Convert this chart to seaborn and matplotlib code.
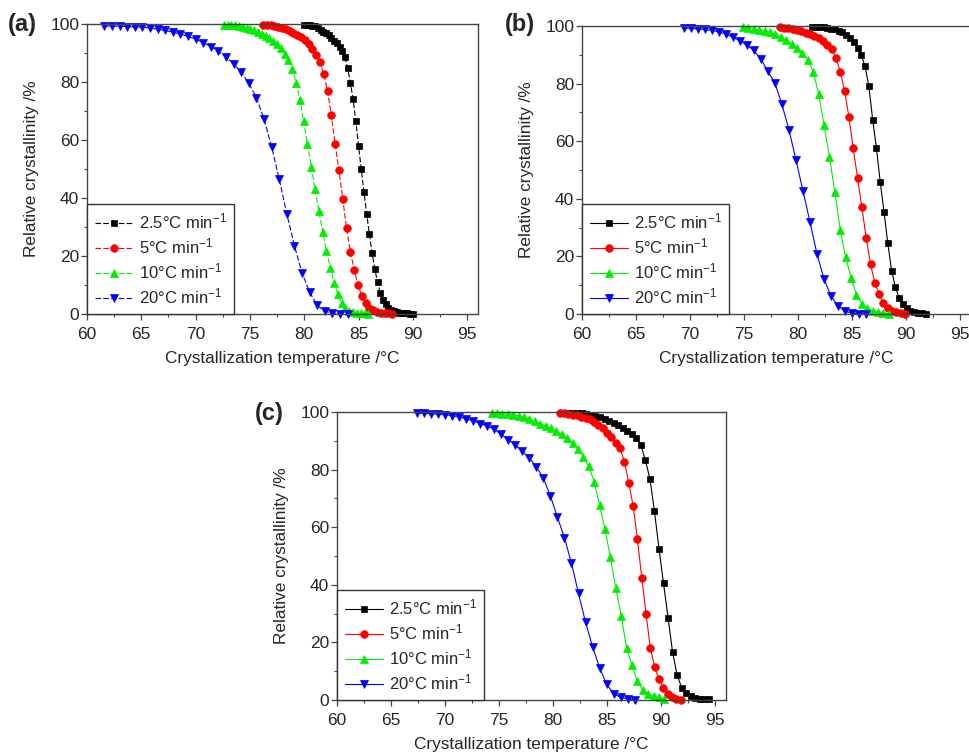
import matplotlib
matplotlib.use("Agg")
import matplotlib.pyplot as plt
import seaborn as sns
from matplotlib.ticker import MultipleLocator

# ---------------- data ----------------
rate_labels = ["2.5°C min$^{-1}$", "5°C min$^{-1}$", "10°C min$^{-1}$", "20°C min$^{-1}$"]
panel_names = ["(a)", "(b)", "(c)"]
x_ticks = [60, 65, 70, 75, 80, 85, 90, 95]
y_ticks = [0, 20, 40, 60, 80, 100]

# ---- panel (a) ----
a_T_25 = [80.00, 80.25, 80.50, 80.75, 81.00, 81.25, 81.50, 81.75, 82.00, 82.25, 82.50, 82.75,
          83.00, 83.25, 83.50, 83.75, 84.00, 84.25, 84.50, 84.75, 85.00, 85.25, 85.50, 85.75,
          86.00, 86.25, 86.50, 86.75, 87.00, 87.25, 87.50, 87.75, 88.00, 88.25, 88.50, 88.75,
          89.00, 89.25, 89.50, 89.75, 90.00]
a_X_25 = [99.6, 99.6, 99.5, 99.4, 99.2, 98.6, 97.9, 97.3, 96.8, 96.1, 95.2, 94.2,
          93.3, 92.1, 90.8, 88.6, 84.7, 79.8, 74.0, 66.5, 58.0, 50.0, 42.0, 34.5,
          27.5, 21.0, 15.5, 11.0, 7.3, 5.0, 3.4, 2.2, 1.5, 1.0, 0.7, 0.5,
          0.4, 0.3, 0.2, 0.1, 0.0]
a_T_5 = [76.20, 76.55, 76.90, 77.25, 77.60, 77.95, 78.30, 78.65, 79.00, 79.35, 79.70, 80.05,
         80.40, 80.75, 81.10, 81.45, 81.80, 82.15, 82.50, 82.85, 83.20, 83.55, 83.90, 84.25,
         84.60, 84.95, 85.30, 85.65, 86.00, 86.35, 86.70, 87.05, 87.40, 87.75, 88.10]
a_X_5 = [99.6, 99.6, 99.5, 99.3, 99.1, 98.7, 98.2, 97.7, 97.0, 96.3, 95.4, 94.4,
         93.2, 91.5, 89.4, 86.9, 82.8, 76.8, 68.5, 58.5, 49.5, 39.5, 29.5, 21.5,
         15.3, 10.0, 6.3, 3.8, 2.2, 1.3, 0.8, 0.5, 0.3, 0.2, 0.1]
a_T_10 = [72.60, 72.95, 73.30, 73.65, 74.00, 74.35, 74.70, 75.05, 75.40, 75.75, 76.10, 76.45,
          76.80, 77.15, 77.50, 77.85, 78.20, 78.55, 78.90, 79.25, 79.60, 79.95, 80.30, 80.65,
          81.00, 81.35, 81.70, 82.05, 82.40, 82.75, 83.10, 83.45, 83.80, 84.15, 84.50, 84.85,
          85.20, 85.55, 85.90]
a_X_10 = [99.6, 99.6, 99.6, 99.5, 99.3, 99.0, 98.7, 98.3, 97.8, 97.2, 96.6, 95.9,
          95.1, 94.1, 93.0, 91.6, 89.6, 87.5, 84.5, 79.8, 73.8, 66.5, 58.5, 50.8,
          43.0, 35.5, 28.3, 21.8, 16.0, 10.8, 6.8, 3.8, 2.1, 1.2, 0.7, 0.5,
          0.3, 0.2, 0.1]
a_T_20 = [61.6, 62.3, 63.0, 63.7, 64.4, 65.1, 65.8, 66.5, 67.2, 67.9, 68.6, 69.3,
          70.0, 70.7, 71.4, 72.1, 72.8, 73.5, 74.2, 74.9, 75.6, 76.3, 77.0, 77.7,
          78.4, 79.1, 79.8, 80.5, 81.2, 81.9, 82.6, 83.3, 84.0]
a_X_20 = [99.3, 99.3, 99.2, 99.1, 99.0, 98.9, 98.6, 98.2, 97.8, 97.2, 96.5, 95.7,
          94.8, 93.6, 92.2, 90.6, 88.6, 86.2, 83.3, 79.6, 74.6, 67.2, 57.6, 46.5,
          34.5, 23.5, 14.2, 7.5, 3.0, 0.9, 0.3, 0.1, 0.0]

# ---- panel (b) ----
b_T_25 = [81.30, 81.65, 82.00, 82.35, 82.70, 83.05, 83.40, 83.75, 84.10, 84.45, 84.80, 85.15,
          85.50, 85.85, 86.20, 86.55, 86.90, 87.25, 87.60, 87.95, 88.30, 88.65, 89.00, 89.35,
          89.70, 90.05, 90.40, 90.75, 91.10, 91.45, 91.80]
b_X_25 = [99.6, 99.6, 99.5, 99.5, 99.3, 99.1, 98.8, 98.4, 97.8, 97.0, 96.0, 94.6,
          92.4, 89.8, 86.0, 79.0, 67.5, 57.5, 45.8, 35.5, 24.5, 15.1, 9.4, 5.6,
          3.4, 2.0, 1.1, 0.6, 0.3, 0.2, 0.1]
b_T_5 = [78.3, 78.7, 79.1, 79.5, 79.9, 80.3, 80.7, 81.1, 81.5, 81.9, 82.3, 82.7,
         83.1, 83.5, 83.9, 84.3, 84.7, 85.1, 85.5, 85.9, 86.3, 86.7, 87.1, 87.5,
         87.9, 88.3, 88.7, 89.1, 89.5, 89.9]
b_X_5 = [99.6, 99.4, 99.2, 98.9, 98.6, 98.2, 97.7, 97.1, 96.4, 95.7, 94.7, 93.4,
         91.9, 89.0, 84.2, 77.5, 68.5, 57.5, 47.3, 37.0, 26.5, 17.3, 10.8, 6.9,
         3.8, 2.0, 1.1, 0.6, 0.3, 0.1]
b_T_10 = [74.9, 75.4, 75.9, 76.4, 76.9, 77.4, 77.9, 78.4, 78.9, 79.4, 79.9, 80.4,
          80.9, 81.4, 81.9, 82.4, 82.9, 83.4, 83.9, 84.4, 84.9, 85.4, 85.9, 86.4,
          86.9, 87.4, 87.9, 88.4]
b_X_10 = [99.6, 99.4, 99.1, 98.7, 98.3, 97.8, 97.1, 96.3, 95.1, 93.8, 92.2, 90.5,
          88.3, 84.0, 76.5, 65.5, 54.6, 42.3, 29.2, 19.8, 12.6, 6.7, 3.5, 2.0,
          1.2, 0.7, 0.3, 0.1]
b_T_20 = [69.40, 70.05, 70.70, 71.35, 72.00, 72.65, 73.30, 73.95, 74.60, 75.25, 75.90, 76.55,
          77.20, 77.85, 78.50, 79.15, 79.80, 80.45, 81.10, 81.75, 82.40, 83.05, 83.70, 84.35,
          85.00, 85.65, 86.30]
b_X_20 = [99.3, 99.2, 99.0, 98.8, 98.5, 98.0, 97.2, 96.1, 94.9, 93.4, 91.5, 88.6,
          84.3, 80.2, 72.8, 64.0, 53.5, 42.7, 31.9, 20.8, 12.1, 6.2, 2.8, 0.9,
          0.3, 0.1, 0.0]

# ---- panel (c) ----
c_T_25 = [81.40, 81.82, 82.24, 82.66, 83.08, 83.50, 83.92, 84.34, 84.76, 85.18, 85.60, 86.02,
          86.44, 86.86, 87.28, 87.70, 88.12, 88.54, 88.96, 89.38, 89.80, 90.22, 90.64, 91.06,
          91.48, 91.90, 92.32, 92.74, 93.16, 93.58, 94.00, 94.42]
c_X_25 = [99.6, 99.6, 99.5, 99.5, 99.4, 99.1, 98.7, 98.2, 97.6, 96.9, 96.2, 95.5,
          94.6, 93.5, 92.2, 90.8, 88.6, 83.2, 76.8, 65.5, 52.5, 40.5, 28.5, 16.5,
          8.6, 4.3, 2.3, 1.3, 0.8, 0.5, 0.3, 0.2]
c_T_5 = [80.6, 81.0, 81.4, 81.8, 82.2, 82.6, 83.0, 83.4, 83.8, 84.2, 84.6, 85.0,
         85.4, 85.8, 86.2, 86.6, 87.0, 87.4, 87.8, 88.2, 88.6, 89.0, 89.4, 89.8,
         90.2, 90.6, 91.0, 91.4, 91.8]
c_X_5 = [99.6, 99.5, 99.3, 99.1, 98.8, 98.4, 98.0, 97.4, 96.5, 95.5, 94.3, 92.7,
         91.2, 89.4, 87.4, 82.8, 75.5, 67.5, 56.0, 42.5, 30.0, 18.0, 11.5, 7.2,
         4.2, 2.0, 0.9, 0.4, 0.1]
c_T_10 = [74.3, 74.8, 75.3, 75.8, 76.3, 76.8, 77.3, 77.8, 78.3, 78.8, 79.3, 79.8,
          80.3, 80.8, 81.3, 81.8, 82.3, 82.8, 83.3, 83.8, 84.3, 84.8, 85.3, 85.8,
          86.3, 86.8, 87.3, 87.8, 88.3, 88.8, 89.3, 89.8, 90.3]
c_X_10 = [99.6, 99.5, 99.4, 99.3, 99.1, 98.7, 98.1, 97.4, 96.8, 96.0, 95.2, 94.3,
          93.3, 92.2, 91.0, 89.4, 87.1, 84.4, 81.2, 75.8, 67.6, 59.3, 49.5, 38.9,
          29.3, 18.0, 12.0, 6.6, 3.5, 2.2, 1.4, 0.9, 0.5]
c_T_20 = [67.40, 68.05, 68.70, 69.35, 70.00, 70.65, 71.30, 71.95, 72.60, 73.25, 73.90, 74.55,
          75.20, 75.85, 76.50, 77.15, 77.80, 78.45, 79.10, 79.75, 80.40, 81.05, 81.70, 82.35,
          83.00, 83.65, 84.30, 84.95, 85.60, 86.25, 86.90, 87.55]
c_X_20 = [99.6, 99.5, 99.4, 99.3, 99.1, 98.7, 98.3, 97.6, 96.9, 96.0, 95.1, 94.0,
          92.2, 90.4, 88.6, 86.3, 84.0, 81.0, 77.0, 70.8, 63.5, 56.3, 47.5, 37.0,
          27.0, 18.5, 11.2, 5.5, 2.2, 0.9, 0.4, 0.1]

panels = [
    [(a_T_25, a_X_25), (a_T_5, a_X_5), (a_T_10, a_X_10), (a_T_20, a_X_20)],
    [(b_T_25, b_X_25), (b_T_5, b_X_5), (b_T_10, b_X_10), (b_T_20, b_X_20)],
    [(c_T_25, c_X_25), (c_T_5, c_X_5), (c_T_10, c_X_10), (c_T_20, c_X_20)],
]

# ---------------- style ----------------
sns.set_style("ticks")
plt.rcParams["font.family"] = ["Liberation Sans", "DejaVu Sans"]
plt.rcParams["mathtext.fontset"] = "custom"
plt.rcParams["mathtext.rm"] = "Liberation Sans"
plt.rcParams["mathtext.it"] = "Liberation Sans:italic"
plt.rcParams["mathtext.bf"] = "Liberation Sans:bold"

colors = ["#000000", "#ff0000", "#00ee00", "#0000ff"]
markers = ["s", "o", "^", "v"]
msizes = [5.0, 5.5, 6.0, 6.0]
linestyles = [(0, (5, 2)), "-", "-"]

W, H = 969, 755
fig = plt.figure(figsize=(W / 100, H / 100), dpi=100)

# axes boxes in pixels: left, top, right, bottom
boxes = [(87, 24, 478, 314), (582, 26, 971, 314), (337, 412, 726, 700)]
label_pos = [(8, 25), (505, 25), (255, 413)]

spine_col = "#444444"
for p, (l, t, r, b) in enumerate(boxes):
    ax = fig.add_axes([l / W, 1 - b / H, (r - l) / W, (b - t) / H])
    for i, (T, X) in enumerate(panels[p]):
        sns.lineplot(x=T, y=X, ax=ax, color=colors[i], marker=markers[i],
                     markersize=msizes[i], markeredgecolor=colors[i],
                     markeredgewidth=0.5, linewidth=0.8, linestyle=linestyles[p],
                     label=rate_labels[i], sort=False, estimator=None, clip_on=False)
    ax.set_xlim(60, 96)
    ax.set_ylim(0, 100)
    ax.set_xticks(x_ticks)
    ax.set_yticks(y_ticks)
    ax.xaxis.set_minor_locator(MultipleLocator(2.5))
    ax.yaxis.set_minor_locator(MultipleLocator(10))
    ax.tick_params(which="major", direction="out", length=4, width=0.9,
                   color=spine_col, labelsize=12.5)
    ax.tick_params(axis="x", which="major", pad=5.5)
    ax.tick_params(axis="y", which="major", pad=1.5)
    ax.tick_params(which="minor", direction="out", length=2.5, width=0.8, color=spine_col)
    for s in ax.spines.values():
        s.set_color(spine_col)
        s.set_linewidth(1.0)
        s.set_visible(True)
    ax.set_xlabel("Crystallization temperature /°C", fontsize=12.4, labelpad=6)
    ax.set_ylabel("Relative crystallinity /%", fontsize=12.4, labelpad=8.5)
    leg = ax.legend(loc="lower left", borderaxespad=0, frameon=True, fancybox=False,
                    edgecolor="#333333", handlelength=2.3, handletextpad=0.35,
                    labelspacing=0.3, fontsize=12, borderpad=0.45, framealpha=1)
    leg.get_frame().set_linewidth(1.0)
    fx, fy = label_pos[p]
    fig.text(fx / W, 1 - fy / H, panel_names[p], fontsize=17, fontweight="bold",
             ha="left", va="center")

fig.savefig("out.png", dpi=100)
